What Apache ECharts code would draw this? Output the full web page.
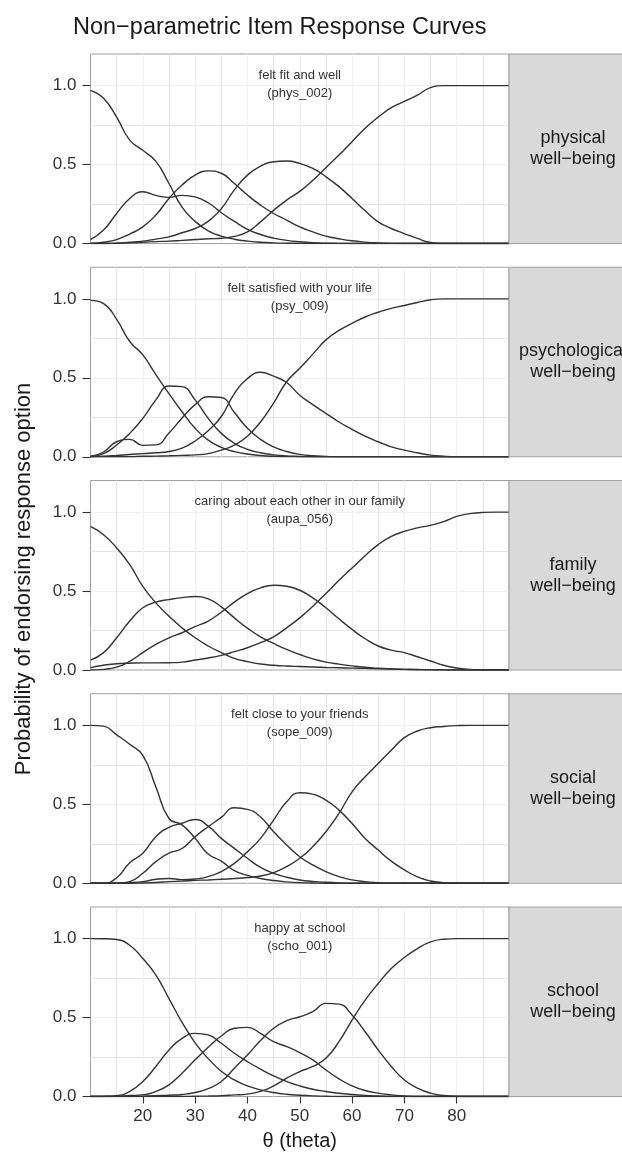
<!DOCTYPE html>
<html>
<head>
<meta charset="utf-8">
<script src="https://cdn.jsdelivr.net/npm/echarts@6/dist/echarts.min.js"></script>
<style>
html,body{margin:0;padding:0;background:#fff;}
#chart{width:622px;height:1161px;}
</style>
</head>
<body>
<div id="chart"></div>
<script>
// ---- data ----
const thetas = [10,12.5,15,17.5,20,22.5,25,27.5,30,32.5,35,37.5,40,42.5,45,47.5,50,52.5,55,57.5,60,62.5,65,67.5,70,72.5,75,77.5,80,82.5,85,87.5,90];
const xTickValues = [20,30,40,50,60,70,80];
const yTickValues = [0,0.5,1];
const stripLabels = ["physical\nwell\u2212being","psychological\nwell\u2212being","family\nwell\u2212being","social\nwell\u2212being","school\nwell\u2212being"];
const itemLabels = ["felt fit and well","felt satisfied with your life","caring about each other in our family","felt close to your friends","happy at school"];
const itemCodes = ["(phys_002)","(psy_009)","(aupa_056)","(sope_009)","(scho_001)"];

// physical well-being (phys_002)
const p1_opt0 = [0.97,0.92,0.80,0.655,0.59,0.52,0.38,0.23,0.14,0.08,0.047,0.027,0.015,0.008,0.004,0.002,0.001,0,0,0,0,0,0,0,0,0,0,0,0,0,0,0,0];
const p1_opt1 = [0.025,0.085,0.19,0.285,0.328,0.305,0.292,0.305,0.295,0.258,0.195,0.14,0.09,0.057,0.034,0.02,0.011,0.005,0.002,0.001,0,0,0,0,0,0,0,0,0,0,0,0,0];
const p1_opt2 = [0,0.008,0.025,0.06,0.105,0.18,0.285,0.37,0.433,0.46,0.445,0.38,0.307,0.243,0.19,0.148,0.105,0.074,0.047,0.03,0.017,0.009,0.004,0.001,0,0,0,0,0,0,0,0,0];
const p1_opt3 = [0,0,0.002,0.008,0.015,0.028,0.042,0.068,0.095,0.14,0.22,0.34,0.433,0.49,0.518,0.522,0.507,0.475,0.423,0.36,0.285,0.207,0.137,0.095,0.063,0.032,0.006,0,0,0,0,0,0];
const p1_opt4 = [0,0,0.002,0.005,0.008,0.012,0.015,0.02,0.025,0.03,0.033,0.045,0.074,0.137,0.21,0.275,0.33,0.40,0.48,0.56,0.645,0.73,0.80,0.86,0.90,0.94,0.987,1,1,1,1,1,1];

// psychological well-being (psy_009)
const p2_opt0 = [0.99,0.97,0.87,0.73,0.645,0.52,0.40,0.285,0.18,0.105,0.06,0.032,0.017,0.008,0.003,0.001,0,0,0,0,0,0,0,0,0,0,0,0,0,0,0,0,0];
const p2_opt1 = [0.003,0.02,0.074,0.148,0.243,0.36,0.448,0.444,0.36,0.243,0.148,0.085,0.047,0.025,0.012,0.005,0.002,0,0,0,0,0,0,0,0,0,0,0,0,0,0,0,0];
const p2_opt2 = [0.002,0.03,0.095,0.11,0.072,0.075,0.15,0.245,0.33,0.38,0.375,0.28,0.18,0.11,0.062,0.033,0.015,0.006,0.002,0,0,0,0,0,0,0,0,0,0,0,0,0,0];
const p2_opt3 = [0,0.003,0.008,0.014,0.02,0.025,0.033,0.055,0.10,0.165,0.255,0.40,0.495,0.535,0.51,0.47,0.39,0.33,0.275,0.22,0.173,0.13,0.095,0.063,0.042,0.025,0.01,0.003,0,0,0,0,0];
const p2_opt4 = [0,0,0,0,0.003,0.004,0.006,0.009,0.012,0.02,0.042,0.074,0.13,0.22,0.34,0.475,0.56,0.65,0.74,0.80,0.845,0.885,0.915,0.94,0.958,0.977,0.994,1,1,1,1,1,1];

// family well-being (aupa_056)
const p3_opt0 = [0.91,0.857,0.773,0.667,0.53,0.425,0.34,0.267,0.204,0.152,0.11,0.074,0.053,0.038,0.03,0.025,0.022,0.019,0.016,0.014,0.012,0.01,0.008,0.006,0.004,0.003,0.002,0.001,0,0,0,0,0];
const p3_opt1 = [0.063,0.11,0.204,0.31,0.394,0.43,0.446,0.458,0.465,0.45,0.40,0.33,0.265,0.21,0.168,0.13,0.098,0.07,0.05,0.037,0.026,0.017,0.011,0.007,0.004,0.002,0.001,0,0,0,0,0,0];
const p3_opt2 = [0,0.004,0.018,0.055,0.11,0.162,0.204,0.236,0.274,0.31,0.366,0.43,0.484,0.52,0.537,0.53,0.505,0.457,0.394,0.324,0.257,0.198,0.152,0.126,0.11,0.084,0.057,0.03,0.013,0.004,0,0,0];
const p3_opt3 = [0.015,0.03,0.04,0.043,0.045,0.045,0.046,0.05,0.063,0.076,0.093,0.116,0.141,0.173,0.21,0.267,0.33,0.404,0.484,0.568,0.646,0.724,0.794,0.846,0.878,0.90,0.916,0.94,0.973,0.99,0.998,1,1];

// social well-being (sope_009)
const p4_opt0 = [1.0,0.995,0.94,0.88,0.81,0.61,0.41,0.37,0.285,0.185,0.14,0.08,0.05,0.03,0.017,0.009,0.004,0.002,0,0,0,0,0,0,0,0,0,0,0,0,0,0,0];
const p4_opt1 = [0,0,0.035,0.13,0.19,0.295,0.354,0.38,0.404,0.362,0.284,0.221,0.158,0.10,0.063,0.038,0.021,0.012,0.006,0.002,0,0,0,0,0,0,0,0,0,0,0,0,0];
const p4_opt2 = [0,0,0,0.01,0.063,0.137,0.19,0.22,0.295,0.358,0.417,0.478,0.468,0.42,0.326,0.242,0.168,0.116,0.074,0.042,0.021,0.01,0.004,0,0,0,0,0,0,0,0,0,0];
const p4_opt3 = [0,0,0,0.003,0.01,0.025,0.03,0.023,0.027,0.042,0.074,0.126,0.2,0.284,0.40,0.516,0.573,0.564,0.526,0.463,0.379,0.284,0.21,0.14,0.085,0.04,0.014,0.004,0,0,0,0,0];
const p4_opt4 = [0,0,0,0,0.002,0.005,0.01,0.014,0.018,0.021,0.025,0.03,0.036,0.046,0.067,0.105,0.158,0.232,0.326,0.442,0.579,0.674,0.758,0.842,0.922,0.964,0.985,0.993,0.998,1,1,1,1];

// school well-being (scho_001)
const p5_opt0 = [1.0,0.999,0.994,0.958,0.874,0.768,0.62,0.47,0.34,0.24,0.16,0.105,0.067,0.042,0.025,0.014,0.008,0.004,0.002,0,0,0,0,0,0,0,0,0,0,0,0,0,0];
const p5_opt1 = [0,0.001,0.005,0.032,0.095,0.19,0.295,0.368,0.40,0.39,0.337,0.274,0.221,0.173,0.13,0.095,0.067,0.046,0.032,0.021,0.013,0.007,0.003,0,0,0,0,0,0,0,0,0,0];
const p5_opt2 = [0,0,0.002,0.006,0.01,0.032,0.074,0.147,0.232,0.312,0.383,0.432,0.438,0.40,0.347,0.316,0.278,0.232,0.168,0.112,0.067,0.038,0.021,0.01,0.004,0,0,0,0,0,0,0,0];
const p5_opt3 = [0,0,0,0,0.002,0.005,0.008,0.013,0.025,0.05,0.095,0.179,0.263,0.354,0.432,0.48,0.505,0.537,0.59,0.585,0.516,0.41,0.295,0.19,0.105,0.053,0.021,0.006,0.001,0,0,0,0];
const p5_opt4 = [0,0,0,0,0,0,0,0,0.002,0.003,0.005,0.01,0.015,0.032,0.067,0.116,0.158,0.19,0.242,0.347,0.484,0.61,0.716,0.81,0.88,0.937,0.979,0.996,1,1,1,1,1];

const panelCurves = [
  [p1_opt0,p1_opt1,p1_opt2,p1_opt3,p1_opt4],
  [p2_opt0,p2_opt1,p2_opt2,p2_opt3,p2_opt4],
  [p3_opt0,p3_opt1,p3_opt2,p3_opt3],
  [p4_opt0,p4_opt1,p4_opt2,p4_opt3,p4_opt4],
  [p5_opt0,p5_opt1,p5_opt2,p5_opt3,p5_opt4]
];

// ---- layout ----
const FONT = '"Liberation Sans", Arial, Helvetica, sans-serif';
const plotLeft = 90.5, plotRight = 509, firstTop = 54, panelStep = 213.25, panelH = 189.5;
const stripW = 128;
const nP = panelCurves.length;
const gridColors = ['#e5e5e5', '#f1f1f1'];

const grids = [], xAxes = [], yAxes = [], series = [], graphics = [];
for (let p = 0; p < nP; p++) {
  const top = firstTop + p * panelStep;
  const isBottom = p === nP - 1;
  grids.push({left: plotLeft, top: top, width: plotRight - plotLeft, height: panelH,
    show: true, borderColor: '#a0a0a0', borderWidth: 1, backgroundColor: '#fff', containLabel: false});
  xAxes.push({
    gridIndex: p, type: 'value', min: 10, max: 90, interval: 5,
    axisLine: {show: false}, axisTick: {show: false}, axisLabel: {show: false},
    splitLine: {show: true, showMinLine: false, showMaxLine: false, lineStyle: {color: gridColors, width: 1.1}}
  });
  xAxes.push({
    gridIndex: p, type: 'value', min: 10, max: 90, position: 'bottom',
    axisLine: {show: false},
    axisTick: {show: isBottom, length: 7, customValues: xTickValues, lineStyle: {color: '#333', width: 1.1}},
    axisLabel: {show: isBottom, customValues: xTickValues, margin: 11, fontSize: 17, color: '#333', fontFamily: FONT},
    splitLine: {show: false}
  });
  yAxes.push({
    gridIndex: p, type: 'value', min: 0, max: 1.2, interval: 0.25,
    axisLine: {show: false}, axisTick: {show: false}, axisLabel: {show: false},
    splitLine: {show: true, showMinLine: false, showMaxLine: false, lineStyle: {color: gridColors, width: 1.1}}
  });
  yAxes.push({
    gridIndex: p, type: 'value', min: 0, max: 1.2, position: 'left',
    axisLine: {show: false},
    axisTick: {show: true, length: 8, customValues: yTickValues, lineStyle: {color: '#333', width: 1.1}},
    axisLabel: {customValues: yTickValues, formatter: v => Number(v).toFixed(1), margin: 14, fontSize: 17, color: '#333', fontFamily: FONT},
    splitLine: {show: false}
  });
  panelCurves[p].forEach(vals => {
    series.push({
      type: 'line', xAxisIndex: 2 * p, yAxisIndex: 2 * p,
      data: thetas.map((t, i) => [t, vals[i]]),
      smooth: 0.5, symbol: 'none', silent: true,
      lineStyle: {color: '#333333', width: 1.4}
    });
  });
  graphics.push({type: 'rect', shape: {x: plotRight, y: top, width: stripW, height: panelH},
    style: {fill: '#d9d9d9', stroke: '#a0a0a0', lineWidth: 1}, z: 10});
  graphics.push({type: 'text', x: plotRight + 64, y: top + panelH / 2, z: 11,
    style: {text: stripLabels[p], fill: '#1a1a1a', fontSize: 18, fontFamily: FONT, lineHeight: 21,
      align: 'center', verticalAlign: 'middle', textAlign: 'center', textVerticalAlign: 'middle'}});
  graphics.push({type: 'text', x: (plotLeft + plotRight) / 2, y: top + 30, z: 11,
    style: {text: itemLabels[p] + '\n' + itemCodes[p], fill: '#333', fontSize: 13, fontFamily: FONT, lineHeight: 18,
      align: 'center', verticalAlign: 'middle', textAlign: 'center', textVerticalAlign: 'middle'}});
}

graphics.push({type: 'text', x: 73, y: 28, z: 11,
  style: {text: 'Non\u2212parametric Item Response Curves', fill: '#1a1a1a', fontSize: 23.5, fontFamily: FONT,
    align: 'left', verticalAlign: 'middle', textAlign: 'left', textVerticalAlign: 'middle'}});
graphics.push({type: 'text', x: 24, y: 579, rotation: Math.PI / 2, z: 11,
  style: {text: 'Probability of endorsing response option', fill: '#1a1a1a', fontSize: 22, fontFamily: FONT,
    align: 'center', verticalAlign: 'middle', textAlign: 'center', textVerticalAlign: 'middle'}});
graphics.push({type: 'text', x: (plotLeft + plotRight) / 2, y: 1141, z: 11,
  style: {text: '\u03b8 (theta)', fill: '#1a1a1a', fontSize: 20, fontFamily: FONT,
    align: 'center', verticalAlign: 'middle', textAlign: 'center', textVerticalAlign: 'middle'}});

const chart = echarts.init(document.getElementById('chart'), null, {renderer: 'canvas', width: 622, height: 1161});
chart.setOption({
  animation: false,
  backgroundColor: '#ffffff',
  textStyle: {fontFamily: FONT},
  grid: grids,
  xAxis: xAxes,
  yAxis: yAxes,
  series: series,
  graphic: {elements: graphics}
});
</script>
</body>
</html>
